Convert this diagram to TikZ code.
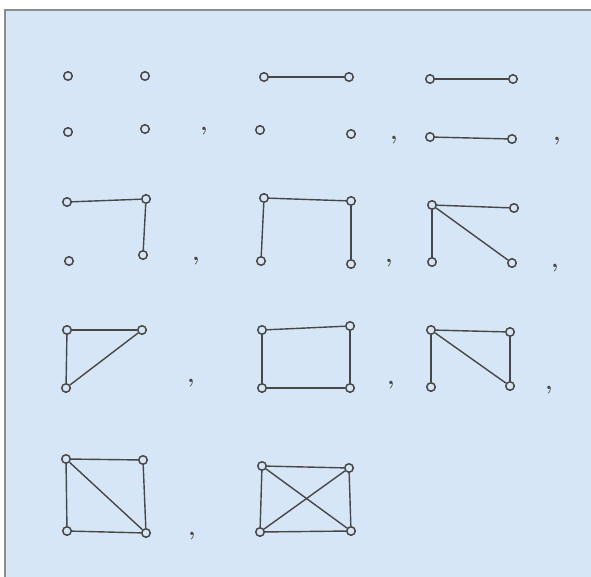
\documentclass[tikz,border=0pt]{standalone}
\usepackage{tikz}
\definecolor{paperblue}{HTML}{D6E6F6}
\definecolor{inkgray}{HTML}{474747}
\definecolor{rulegray}{HTML}{8C8C8C}
\tikzset{
  vtx/.style={circle, draw=inkgray, fill=paperblue, line width=1.5pt, inner sep=0pt, minimum size=8.5pt},
  edge/.style={draw=inkgray, line width=1.4pt},
  sep/.style={font=\fontsize{23}{25}\selectfont\bfseries, text=inkgray, inner sep=0pt}
}

\begin{document}
\begin{tikzpicture}[x=1pt, y=-1pt]
    \useasboundingbox (0,0) rectangle (591,577);
    \fill[paperblue] (5,10) rectangle (591,577);
    \draw[rulegray, line width=1.5pt] (5,577) -- (5,10) -- (591,10);
    % first row
    \foreach \n/\x/\y in {a1/68/76, a2/145/76, a3/68/132, a4/145/129,
                          b1/264/77, b2/349/77, b3/260/130, b4/351/134,
                          c1/430/79, c2/513/79, c3/430/137, c4/512/139} {
        \node[vtx] (\n) at (\x,\y) {};
    }
    \foreach \u/\v in {b1/b2, c1/c2, c3/c4} {
        \draw[edge] (\u) -- (\v);
    }
    % second row
    \foreach \n/\x/\y in {d1/67/202, d2/146/199, d3/69/261, d4/143/255,
                          e1/264/198, e2/351/201, e3/261/261, e4/351/264,
                          f1/432/205, f2/514/208, f3/432/262, f4/512/263} {
        \node[vtx] (\n) at (\x,\y) {};
    }
    \foreach \u/\v in {d1/d2, d2/d4, e1/e2, e1/e3, e2/e4, f1/f2, f1/f3, f1/f4} {
        \draw[edge] (\u) -- (\v);
    }
    % third row
    \foreach \n/\x/\y in {g1/67/330, g2/142/330, g3/66/388,
                          h1/262/330, h2/350/326, h3/262/388, h4/350/388,
                          i1/431/330, i2/510/332, i3/431/387, i4/510/386} {
        \node[vtx] (\n) at (\x,\y) {};
    }
    \foreach \u/\v in {g1/g2, g1/g3, g2/g3, h1/h2, h2/h4, h4/h3, h3/h1,
                       i1/i2, i2/i4, i1/i4, i1/i3} {
        \draw[edge] (\u) -- (\v);
    }
    % fourth row
    \foreach \n/\x/\y in {j1/66/459, j2/143/460, j3/67/531, j4/146/533,
                          k1/262/466, k2/349/468, k3/260/532, k4/351/531} {
        \node[vtx] (\n) at (\x,\y) {};
    }
    \foreach \u/\v in {j1/j2, j1/j3, j3/j4, j2/j4, j1/j4,
                       k1/k2, k1/k3, k3/k4, k2/k4, k1/k4, k2/k3} {
        \draw[edge] (\u) -- (\v);
    }
    % commas
    \foreach \n/\x/\y in {s1/204/131, s2/394/140, s3/557/141,
                          s4/196/261, s5/389/263, s6/555/268,
                          s7/191/383, s8/391/385, s9/549/390,
                          s10/192/536} {
        \node[sep] (\n) at (\x,\y) {,};
    }
\end{tikzpicture}
\end{document}
